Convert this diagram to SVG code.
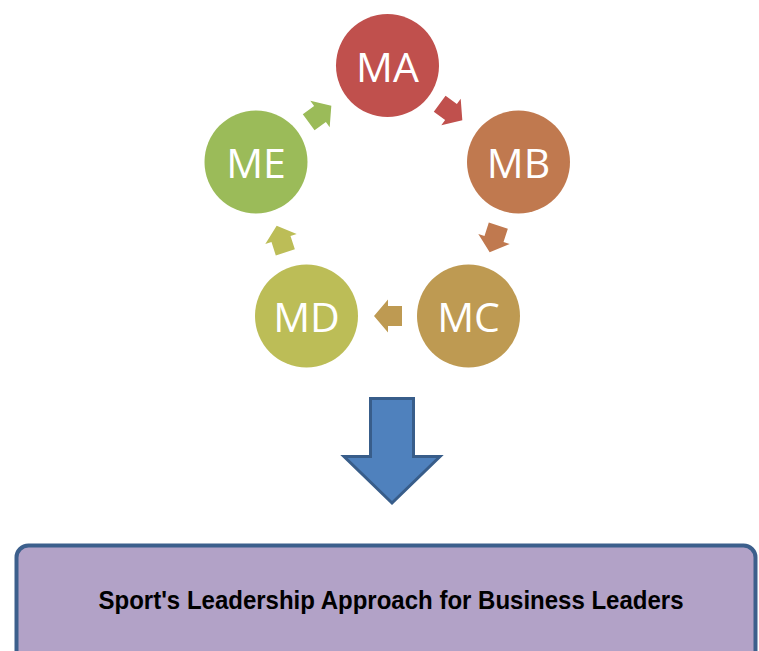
<svg xmlns="http://www.w3.org/2000/svg" xmlns:xlink="http://www.w3.org/1999/xlink" width="759" height="651" viewBox="0 0 759 651">
  <style>
    .lbl { font-family: "Open Sans", "Noto Sans", "DejaVu Sans", sans-serif; font-size: 41px; fill: #ffffff; text-anchor: middle; }
    .title { font-family: "Liberation Sans", Arial, sans-serif; font-weight: bold; font-size: 25.5px; fill: #000000; text-anchor: middle; }
  </style>
  <defs>
    <path id="arr" d="M-14,-10 L0,-10 L0,-16.5 L14,0 L0,16.5 L0,10 L-14,10 Z"/>
  </defs>
  <rect width="759" height="651" fill="#ffffff"/>

  <g id="connectors">
    <use xlink:href="#arr" href="#arr" fill="#9bbb59" transform="translate(320,114) rotate(-36)"/>
    <use xlink:href="#arr" href="#arr" fill="#c0504d" transform="translate(451,112) rotate(36)"/>
    <use xlink:href="#arr" href="#arr" fill="#c0794f" transform="translate(494,239) rotate(108)"/>
    <use xlink:href="#arr" href="#arr" fill="#be9a52" transform="translate(388,316) rotate(180)"/>
    <use xlink:href="#arr" href="#arr" fill="#bcbd57" transform="translate(281,239) rotate(-108)"/>
    <path id="down-arrow" d="M370.5,398.5 H413.5 V456.5 H440 L392,503 L344,456.5 H370.5 Z" fill="#4f81bd" stroke="#385d8a" stroke-width="3" stroke-linejoin="miter"/>
  </g>

  <g id="node-MA">
    <circle cx="387.5" cy="65.5" r="51.5" fill="#c0504d"/>
    <text class="lbl" x="387.5" y="81.5">MA</text>
  </g>
  <g id="node-MB">
    <circle cx="518.5" cy="162" r="51.5" fill="#c0794f"/>
    <text class="lbl" x="518.5" y="178">MB</text>
  </g>
  <g id="node-MC">
    <circle cx="468.5" cy="316" r="51.5" fill="#be9a52"/>
    <text class="lbl" x="468.5" y="332">MC</text>
  </g>
  <g id="node-MD">
    <circle cx="306.5" cy="316" r="51.5" fill="#bcbd57"/>
    <text class="lbl" x="306.5" y="332">MD</text>
  </g>
  <g id="node-ME">
    <circle cx="256" cy="162" r="51.5" fill="#9bbb59"/>
    <text class="lbl" x="256" y="178">ME</text>
  </g>

  <g id="node-result">
    <rect x="16.5" y="545.5" width="739" height="130" rx="12" ry="12" fill="#b2a2c7" stroke="#3c5f8c" stroke-width="4"/>
    <text class="title" x="391" y="608.5" textLength="585" lengthAdjust="spacingAndGlyphs">Sport's Leadership Approach for Business Leaders</text>
  </g>
</svg>
